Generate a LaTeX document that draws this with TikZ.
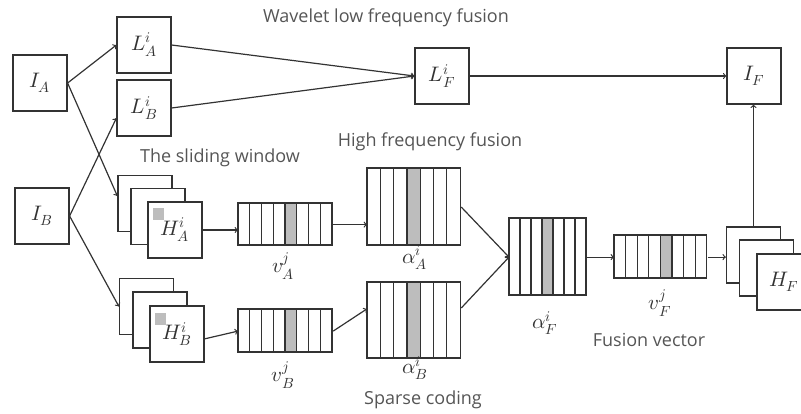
\documentclass[tikz,border=0pt]{standalone}
\usepackage{fontspec}
\setmainfont{Open Sans}
\usepackage{unicode-math}
\usetikzlibrary{calc}
\definecolor{inkgray}{HTML}{333333}
\definecolor{textgray}{HTML}{555555}
\definecolor{cellgray}{HTML}{BDBDBD}

% coding vector: name, left, top, cells, cell width, height, grey cell
\newcommand{\codevec}[7]{%
  \fill[cellgray] ({#2+(#7-1)*#5},#3) rectangle ++(#5,#6);
  \foreach \k in {1,...,#4}
    \draw ({#2+(\k-1)*#5},#3) rectangle ++(#5,#6);
  \node[inner sep=0pt, minimum width={#4*#5}, minimum height=#6, anchor=north west] (#1) at (#2,#3) {};
}

\begin{document}
\begin{tikzpicture}[x=1pt,y=-1pt,line width=1.2pt,color=inkgray,
    box/.style={draw,fill=white,inner sep=0pt,minimum width=54,minimum height=56,
      font=\fontsize{21}{23}\selectfont},
    caption/.style={text=textgray,font=\fontsize{18}{21}\selectfont},
    lbl/.style={font=\fontsize{21}{23}\selectfont}]
  \useasboundingbox (0,0) rectangle (801,413);

  % inputs and low frequency part
  \node[box] (IA) at (40,83) {$I_A$};
  \node[box] (IB) at (42,216) {$I_B$};
  \node[box] (LA) at (144,45) {$L_A^i$};
  \node[box] (LB) at (144,108) {$L_B^i$};
  \node[box] (LF) at (442,76) {$L_F^i$};
  \node[box] (IF) at (754,76) {$I_F$};

  % high frequency sheets
  \node[box] (HAback) at (145,203.5) {};
  \node[box] (HAmid) at (158,216.5) {};
  \node[box] (HA) at (175,230) {$H_A^i$};
  \fill[cellgray] (153,208) rectangle ++(11,12);
  \node[box] (HBback) at (146.5,306.5) {};
  \node[box] (HBmid) at (160,320) {};
  \node[box] (HB) at (177,334) {$H_B^i$};
  \fill[cellgray] (155,313) rectangle ++(11,12);
  \node[box] (HFback) at (753.5,255) {};
  \node[box] (HFmid) at (766.5,268) {};
  \node[box] (HF) at (784,282) {$H_F$};

  % vectors
  \codevec{vA}{238}{203}{8}{11.75}{42}{5}
  \codevec{vB}{238}{309}{8}{11.75}{43}{5}
  \codevec{aA}{367}{168}{7}{13.3}{77}{4}
  \codevec{aB}{367}{282}{7}{13.3}{76}{4}
  \codevec{aF}{509}{218}{7}{11}{77}{4}
  \codevec{vF}{614}{235}{8}{11.6}{43}{5}
  \node[lbl] (vAl) at (283,266) {$v_A^j$};
  \node[lbl] (vBl) at (283,375) {$v_B^j$};
  \node[lbl] (aAl) at (415,258) {$\alpha_A^i$};
  \node[lbl] (aBl) at (415,368) {$\alpha_B^i$};
  \node[lbl] (aFl) at (545,323) {$\alpha_F^i$};
  \node[lbl] (vFl) at (660,303) {$v_F^j$};

  % connectors
  \draw[->] (IA.east) -- (LA.west);
  \draw[->] (IA.east) -- (HAback.165);
  \draw[->] (IB.east) -- (LB.200);
  \draw[->] (IB.east) -- (HBback.west);
  \draw[->] (LA.east) -- (LF.west);
  \draw[->] (LB.east) -- (LF.west);
  \draw[->] (LF.east) -- (IF.west);
  \draw[->] (HA.east) -- (HA.east -| vA.west);
  \draw[->] (HB.-10) -- (vB.west);
  \draw[->] (vA.east) -- (vA.east -| aA.west);
  \draw[->] (vB.east) -- (aB.166);
  \draw[->] (aA.east) -- (aF.west);
  \draw[->] (aB.15) -- (aF.west);
  \draw[->] (aF.east) -- (aF.east -| vF.west);
  \draw[->] (vF.east) -- (vF.east -| HFback.west);
  \draw[->] (HFback.north) -- (HFback.north |- IF.south);

  % captions
  \node[caption] (lowcap) at (386,18) {Wavelet low frequency fusion};
  \node[caption] (slidecap) at (220,158) {The sliding window};
  \node[caption] (highcap) at (430,142) {High frequency fusion};
  \node[caption] (sparsecap) at (423,400) {Sparse coding};
  \node[caption] (fusecap) at (649,340) {Fusion vector};
\end{tikzpicture}
\end{document}
